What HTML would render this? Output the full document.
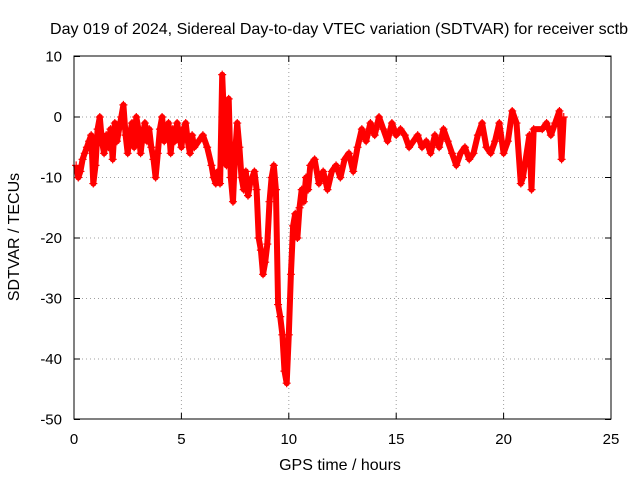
<!DOCTYPE html>
<html><head><meta charset="utf-8"><style>
body{margin:0;background:#fff;}
svg{display:block;font-family:"Liberation Sans",sans-serif;}
</style></head><body>
<svg id="chart" width="640" height="480" viewBox="0 0 640 480">
<rect width="640" height="480" fill="#fff"/>
<text x="339" y="34" font-size="16" text-anchor="middle" textLength="578" lengthAdjust="spacingAndGlyphs">Day 019 of 2024, Sidereal Day-to-day VTEC variation (SDTVAR) for receiver sctb</text>
<text x="340" y="470" font-size="16" text-anchor="middle">GPS time / hours</text>
<text transform="translate(19,237) rotate(-90)" font-size="16" text-anchor="middle">SDTVAR / TECUs</text>
<g id="grid"></g>
<g id="ticks"></g>
<g id="series"></g>
<rect x="74" y="56" width="537" height="363" fill="none" stroke="#000" stroke-width="1"/>
</svg>
<script>
const xTicks=[0,5,10,15,20,25];
const yTicks=[10,0,-10,-20,-30,-40,-50];
const hours=[0.1,0.2,0.3,0.4,0.5,0.6,0.7,0.8,0.9,1.0,1.1,1.2,1.3,1.4,1.5,1.6,1.7,1.8,1.9,2.0,2.1,2.2,2.3,2.4,2.5,2.6,2.7,2.8,2.9,3.0,3.1,3.2,3.3,3.4,3.5,3.6,3.7,3.8,3.9,4.0,4.1,4.2,4.3,4.4,4.5,4.6,4.7,4.8,4.9,5.0,5.1,5.2,5.3,5.4,5.5,5.6,5.8,6.0,6.2,6.4,6.5,6.6,6.7,6.8,6.9,7.0,7.1,7.2,7.3,7.4,7.5,7.6,7.7,7.8,7.9,8.0,8.1,8.2,8.4,8.5,8.6,8.7,8.8,8.9,9.0,9.1,9.2,9.3,9.4,9.5,9.6,9.7,9.8,9.9,10.0,10.1,10.2,10.3,10.4,10.5,10.6,10.7,10.8,10.9,11.0,11.2,11.4,11.6,11.8,12.0,12.2,12.4,12.6,12.8,13.0,13.2,13.4,13.6,13.8,14.0,14.2,14.4,14.6,14.8,15.0,15.2,15.4,15.6,15.8,16.0,16.2,16.4,16.6,16.8,17.0,17.2,17.4,17.6,17.8,18.0,18.2,18.4,18.6,18.8,19.0,19.2,19.4,19.6,19.8,20.0,20.2,20.4,20.6,20.8,20.9,21.2,21.3,21.4,21.8,22.0,22.2,22.4,22.6,22.7,22.8];
const sdtvar=[-8,-10,-9,-7,-6,-5,-4,-3,-11,-8,-2,0,-4,-6,-3,-5,-2,-7,-1,-4,-2,0,2,-3,-6,-3,-1,-5,0,-2,-6,-3,-1,-4,-2,-5,-7,-10,-6,-2,0,-4,-3,-1,-6,-2,-4,-1,-3,-5,-2,-1,-4,-6,-3,-5,-4,-3,-5,-8,-10,-11,-9,-11,7,-2,-8,3,-10,-14,-6,-1,-5,-10,-12,-9,-13,-11,-9,-12,-20,-22,-26,-24,-21,-14,-10,-8,-12,-31,-33,-36,-42,-44,-36,-26,-18,-16,-20,-15,-12,-14,-10,-12,-8,-7,-11,-9,-12,-9,-8,-10,-7,-6,-9,-5,-2,-4,-1,-3,0,-2,-4,-1,-3,-2,-3,-5,-4,-3,-5,-4,-6,-3,-5,-2,-4,-6,-8,-6,-5,-7,-6,-3,-1,-5,-6,-4,-1,-6,-4,1,-1,-11,-10,-3,-12,-2,-2,-1,-3,-1,1,-7,0];
const NS="http://www.w3.org/2000/svg";
const X=h=>74+h*(537/25);
const Y=v=>117-v*(363/60);
function mk(t,a,p){const e=document.createElementNS(NS,t);for(const k in a)e.setAttribute(k,a[k]);p.appendChild(e);return e;}
const grid=document.getElementById('grid'),ticks=document.getElementById('ticks'),ser=document.getElementById('series');
xTicks.forEach(t=>{const x=X(t);
 if(t>0&&t<25){const g=mk('line',{x1:x,x2:x,y1:56,y2:419,stroke:'#a0a0a0','stroke-dasharray':'1,3'},grid);}
 mk('line',{x1:x,x2:x,y1:419,y2:413,stroke:'#000'},ticks);mk('line',{x1:x,x2:x,y1:56,y2:62,stroke:'#000'},ticks);
 const l=mk('text',{x:x,y:444,'font-size':15,'text-anchor':'middle'},ticks);l.textContent=t;
 });
yTicks.forEach(t=>{const y=Y(t);
 if(t<10&&t>-50){const g=mk('line',{x1:74,x2:611,y1:y,y2:y,stroke:'#a0a0a0','stroke-dasharray':'1,3'},grid);}
 mk('line',{x1:74,x2:80,y1:y,y2:y,stroke:'#000'},ticks);mk('line',{x1:611,x2:605,y1:y,y2:y,stroke:'#000'},ticks);
 const l=mk('text',{x:62,y:y+5,'font-size':15,'text-anchor':'end'},ticks);l.textContent=t;
 });
let d='';hours.forEach((h,i)=>{d+=(i?'L':'M')+X(h).toFixed(1)+' '+Y(sdtvar[i]).toFixed(1);});
const pl=mk('path',{d:d,fill:'none',stroke:'#f00','stroke-width':6,'stroke-linejoin':'round'},ser);


hours.forEach((h,i)=>{const x=X(h),y=Y(sdtvar[i]);
 const p=mk('path',{d:`M${x-4} ${y}H${x+4}M${x} ${y-4}V${y+4}`,stroke:'#f00','stroke-width':1.2},ser);
 
 });
</script>
</body></html>
